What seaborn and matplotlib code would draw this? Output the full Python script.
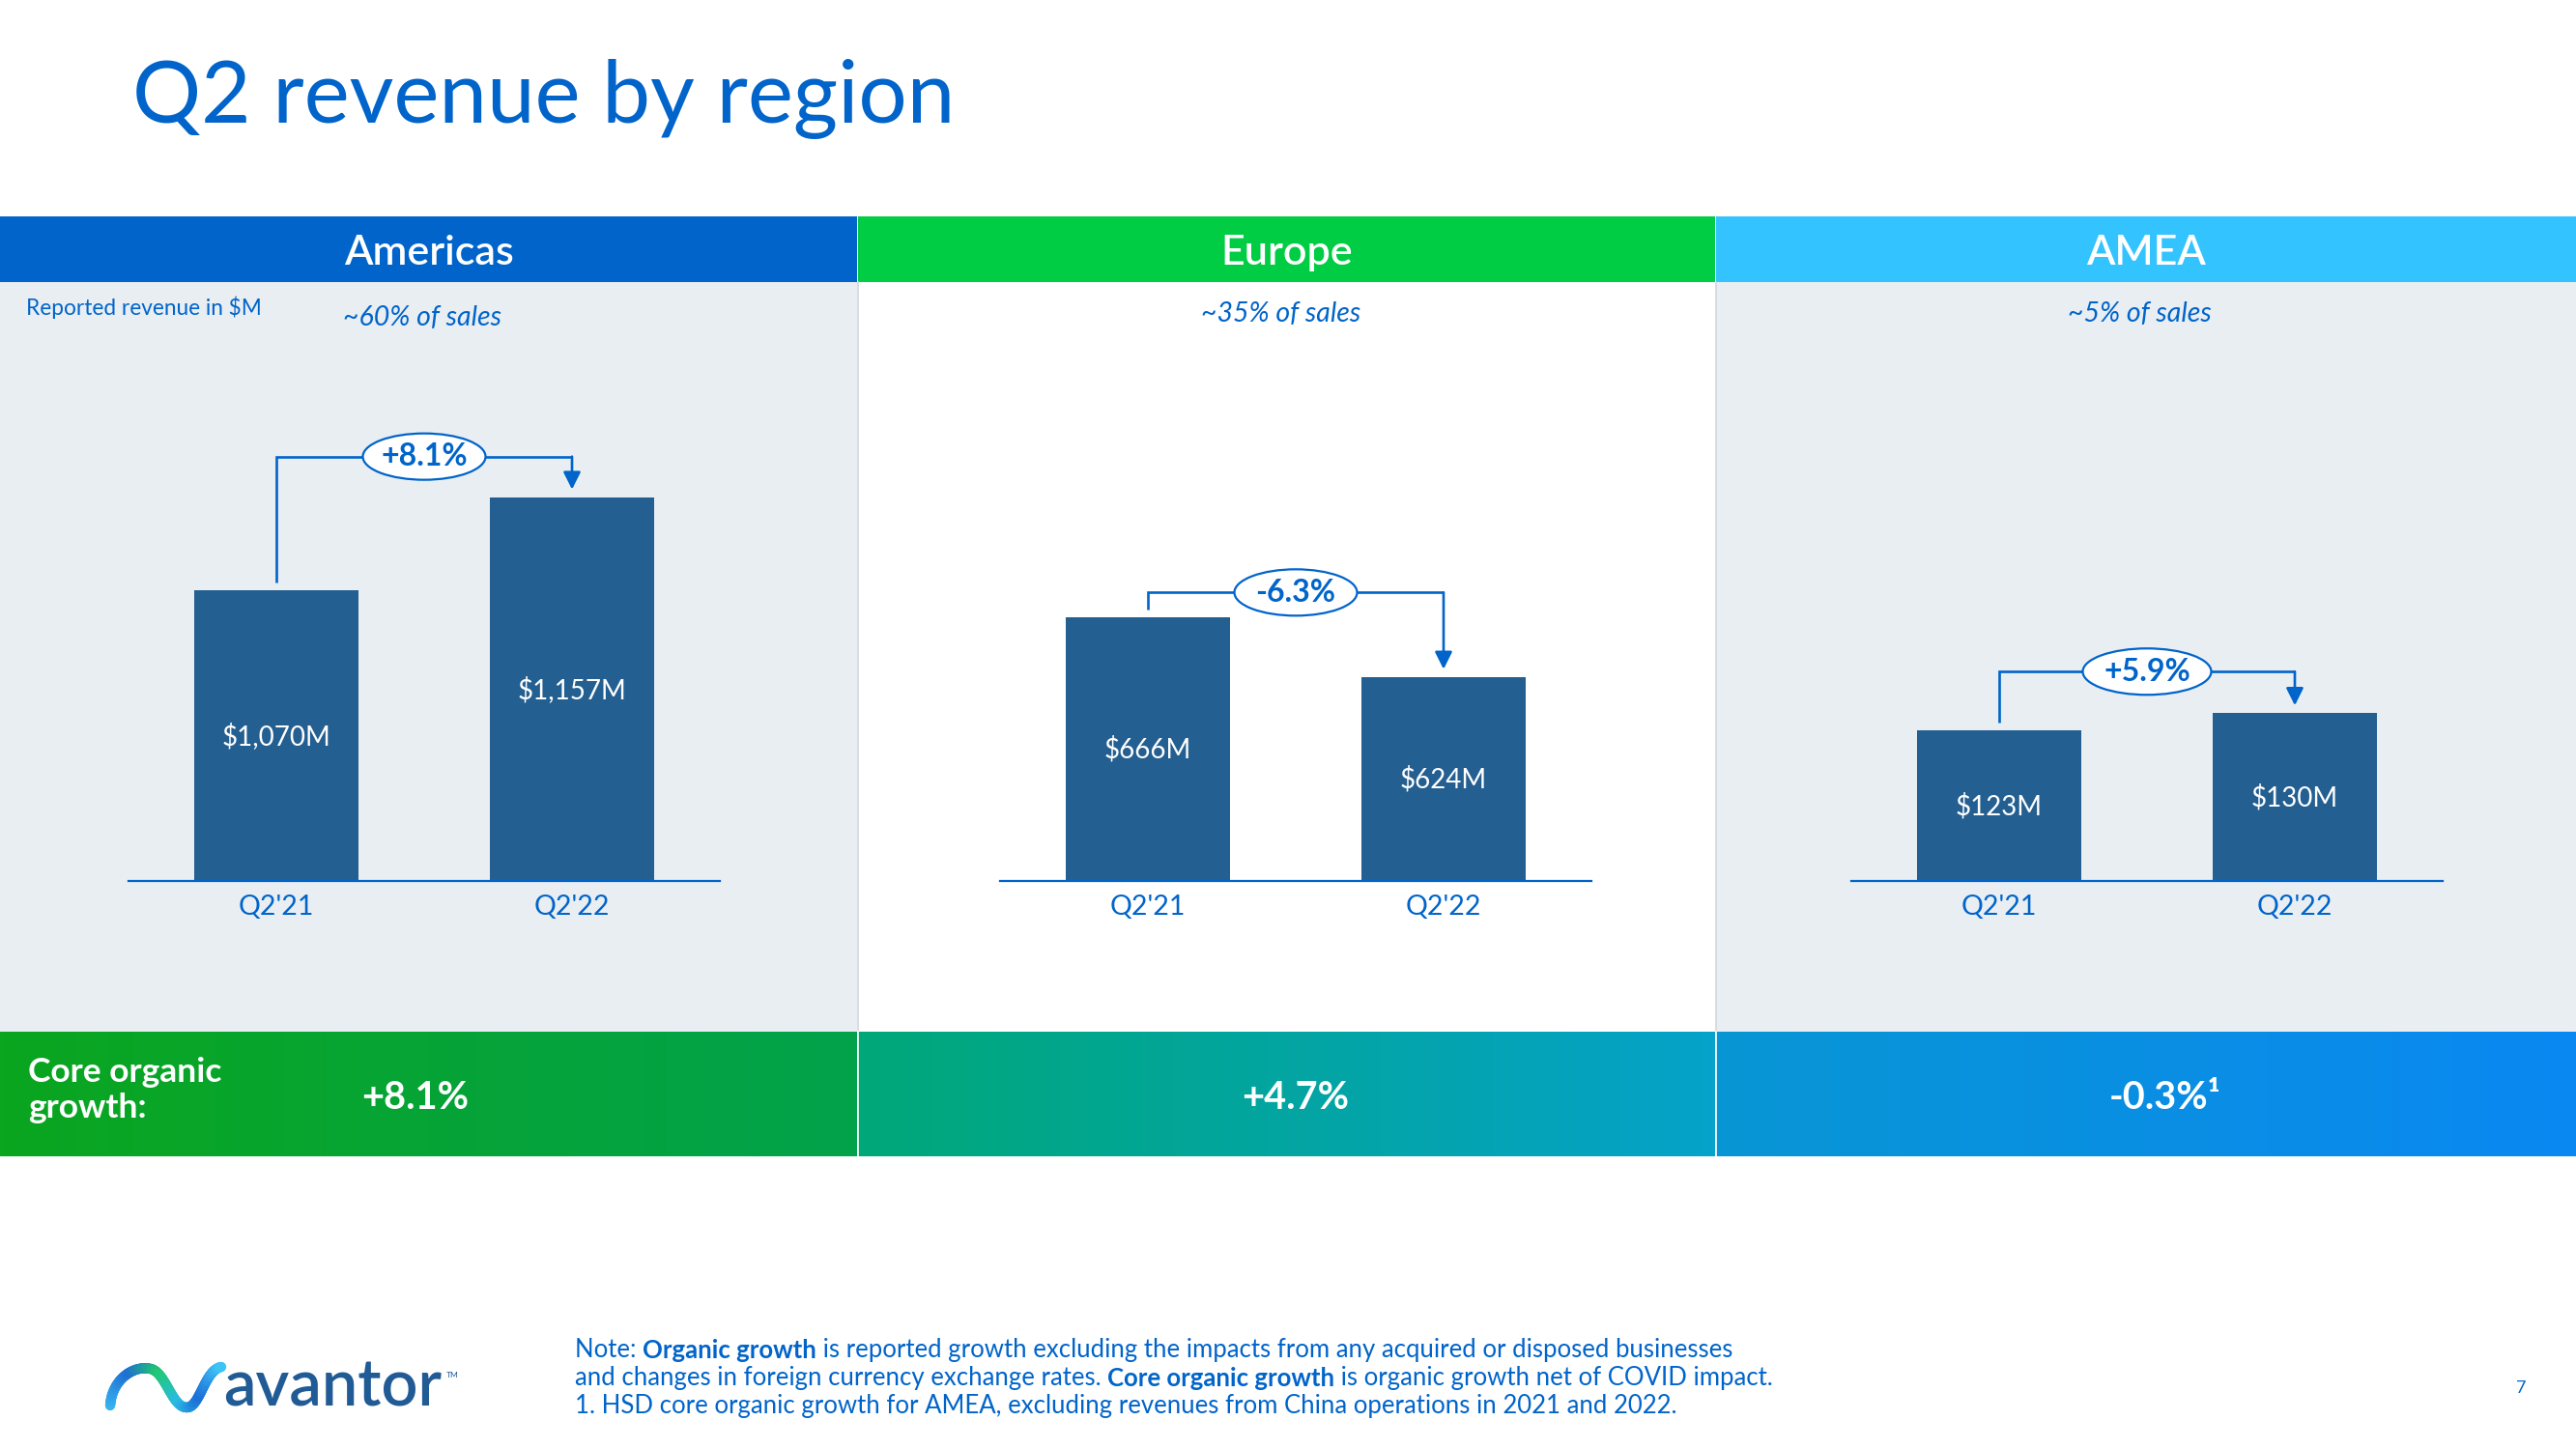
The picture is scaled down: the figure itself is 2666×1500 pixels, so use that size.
import numpy as np
import pandas as pd
import matplotlib
matplotlib.use("Agg")
import matplotlib.pyplot as plt
import seaborn as sns
from matplotlib.patches import Rectangle, Ellipse
from matplotlib.transforms import ScaledTranslation
from matplotlib.collections import LineCollection
from matplotlib.colors import LinearSegmentedColormap

# ---------------- data ----------------
regions = ["Americas", "Europe", "AMEA"]
periods = ["Q2'21", "Q2'22"]
americas_rev = [1070, 1157]
europe_rev = [666, 624]
amea_rev = [123, 130]
yoy_change = ["+8.1%", "-6.3%", "+5.9%"]
sales_share = ["~60% of sales", "~35% of sales", "~5% of sales"]
core_organic = ["+8.1%", "+4.7%", "-0.3%¹"]

# ---------------- style ----------------
sns.set_theme(style="white")
plt.rcParams["font.family"] = ["Lato", "DejaVu Sans"]

BLUE = "#0064CA"
BAR = "#245F91"
PANEL_BG = "#E9EEF3"
HEADER_COLORS = ["#0064CB", "#00CC44", "#33C3FF"]
BAND_GRADS = [("#0AA61F", "#02A24C"), ("#00A878", "#06A2CA"), ("#0896D4", "#0A88F2")]

W, H = 2666, 1500
fig = plt.figure(figsize=(W / 100, H / 100), dpi=100)
fig.patch.set_facecolor("white")

# background / decoration axes in pixel coordinates
bg = fig.add_axes([0, 0, 1, 1], zorder=0)
bg.set_xlim(0, W)
bg.set_ylim(H, 0)
bg.axis("off")

panel_x = [(0, 887), (888, 1775), (1776, 2666)]
axes_x = [(133, 745), (1035, 1647), (1916, 2528)]
HEAD_TOP, HEAD_BOT = 224, 292
BAND_TOP, BAND_BOT = 1068, 1197
AX_TOP, AX_BOT = 292, 912.5
ylims = [(798.6, 1357.6), (479.3, 903.4), (62.3, 303.4)]
bracket_off = [42, 26, 43]
share_x = [437, 1326, 2214]
share_y = [329, 325, 325]
core_x = [430, 1341, 2241]

# title
bg.text(137, 127, "Q2 revenue by region", fontsize=64, fontweight="normal",
        color=BLUE, va="baseline", ha="left")

for i, (x0, x1) in enumerate(panel_x):
    # panel background
    bg.add_patch(Rectangle((x0, HEAD_BOT), x1 - x0, BAND_TOP - HEAD_BOT,
                           facecolor=PANEL_BG if i != 1 else "white", lw=0))
    # header band
    bg.add_patch(Rectangle((x0, HEAD_TOP), x1 - x0, HEAD_BOT - HEAD_TOP,
                           facecolor=HEADER_COLORS[i], lw=0))
    bg.text((x0 + x1) / 2, 262, regions[i], fontsize=31, fontweight="semibold",
            color="white", ha="center", va="center")
    # bottom gradient band
    cmap = LinearSegmentedColormap.from_list(f"g{i}", BAND_GRADS[i])
    bg.imshow(np.linspace(0, 1, 256)[None, :], cmap=cmap, aspect="auto",
              extent=(x0, x1, BAND_BOT, BAND_TOP), zorder=1)
    # share label
    bg.text(share_x[i], share_y[i], sales_share[i], fontsize=20.5, fontstyle="italic",
            color=BLUE, ha="center", va="center")
    bg.text(core_x[i], 1137, core_organic[i], fontsize=28.5, fontweight="bold",
            color="white", ha="center", va="center", zorder=3)

# separators
for xs in (887.5, 1775.5):
    bg.plot([xs, xs], [HEAD_BOT, BAND_TOP], color="#D3D8DE", lw=1.2, zorder=2)
    bg.plot([xs, xs], [BAND_TOP, BAND_BOT], color="white", lw=1.2, zorder=2)

bg.set_xlim(0, W)
bg.set_ylim(H, 0)

bg.text(27, 318, "Reported revenue in $M", fontsize=16.3, color=BLUE,
        ha="left", va="center")
bg.text(29, 1110, "Core organic", fontsize=25.5, fontweight="bold", color="white",
        ha="left", va="center", zorder=3)
bg.text(29, 1147, "growth:", fontsize=25.5, fontweight="bold", color="white",
        ha="left", va="center", zorder=3)

# footnote with mixed weights
foot_lines = [
    [("Note: ", "normal"), ("Organic growth", "bold"),
     (" is reported growth excluding the impacts from any acquired or disposed businesses", "normal")],
    [("and changes in foreign currency exchange rates. ", "normal"), ("Core organic growth", "bold"),
     (" is organic growth net of COVID impact.", "normal")],
    [("1. HSD core organic growth for AMEA, excluding revenues from China operations in 2021 and 2022.", "normal")],
]
foot_base = [1405, 1434, 1463]
for line, yb in zip(foot_lines, foot_base):
    prev = None
    for txt, wt in line:
        if prev is None:
            prev = bg.text(595, yb, txt, fontsize=18.5, fontweight=wt, color=BLUE,
                           ha="left", va="baseline")
        else:
            prev = bg.annotate(txt, xy=(1, 0), xycoords=prev, fontsize=18.5,
                               fontweight=wt, color=BLUE, ha="left", va="bottom")

bg.text(2609, 1437, "7", fontsize=13, color=BLUE, ha="center", va="center")

# logo
def bez(p0, c1, c2, p1, n=60):
    t = np.linspace(0, 1, n)[:, None]
    p0, c1, c2, p1 = map(np.array, (p0, c1, c2, p1))
    return ((1 - t) ** 3) * p0 + 3 * ((1 - t) ** 2) * t * c1 + 3 * (1 - t) * t ** 2 * c2 + t ** 3 * p1

pts = np.vstack([
    bez((114, 1455), (116, 1428), (138, 1413), (156, 1417)),
    bez((156, 1417), (172, 1421), (178, 1458), (194, 1457))[1:],
    bez((194, 1457), (207, 1456), (212, 1418), (229, 1415))[1:],
])
segs = np.stack([pts[:-1], pts[1:]], axis=1)
logo_cmap = LinearSegmentedColormap.from_list(
    "logo", ["#37B4F0", "#1F6FD2", "#20C970", "#2ABBE6", "#1C6ED6", "#3EC3F7"])
lc = LineCollection(segs, colors=logo_cmap(np.linspace(0, 1, len(segs))),
                    linewidths=7.5, capstyle="round", zorder=3)
bg.add_collection(lc)
bg.text(231, 1455, "avantor", fontsize=48, fontweight="semibold", color="#215B95",
        ha="left", va="baseline")
bg.text(462, 1424, "TM", fontsize=6, color="#215B95", ha="left", va="center")

# ---------------- bar panels ----------------
values_by_region = [americas_rev, europe_rev, amea_rev]
for i, vals in enumerate(values_by_region):
    x0, x1 = axes_x[i]
    ax = fig.add_axes([x0 / W, 1 - AX_BOT / H, (x1 - x0) / W, (AX_BOT - AX_TOP) / H], zorder=2)
    df = pd.DataFrame({"period": periods, "revenue": vals})
    sns.barplot(data=df, x="period", y="revenue", color=BAR, saturation=1,
                width=0.556, errorbar=None, linewidth=0, ax=ax)
    ax.set_facecolor("none")
    ax.set_xlabel("")
    ax.set_ylabel("")
    ax.set_yticks([])
    for s in ("left", "right", "top"):
        ax.spines[s].set_visible(False)
    ax.spines["bottom"].set_color(BLUE)
    ax.spines["bottom"].set_linewidth(1.6)
    ax.tick_params(axis="x", length=0, pad=9.5, labelsize=20.5, labelcolor=BLUE)
    ylo, yhi = ylims[i]
    ax.set_xlim(-0.5, 1.5)
    ax.set_ylim(ylo, yhi)
    k = (AX_BOT - AX_TOP) / (yhi - ylo)  # pixels per $M

    # value labels centred in visible bar
    for j, v in enumerate(vals):
        ax.text(j, (ylo + v) / 2, f"${v:,}M", color="white", fontsize=20,
                ha="center", va="center")

    # bracket with arrow
    gap = 8 / k
    level = max(vals) + bracket_off[i] / k
    ax.plot([0, 0, 1], [vals[0] + gap, level, level], color=BLUE, lw=1.9,
            solid_joinstyle="miter", solid_capstyle="butt", zorder=3)
    ax.annotate("", xy=(1, vals[1] + gap), xytext=(1, level),
                arrowprops=dict(arrowstyle="-|>,head_length=0.4,head_width=0.2",
                                mutation_scale=27, lw=1.9, color=BLUE,
                                shrinkA=0, shrinkB=0), zorder=3)
    ew = 1.27 if i != 2 else 1.33
    ell = Ellipse((0, 0), ew, 0.48, facecolor="white", edgecolor=BLUE, lw=1.6,
                  transform=fig.dpi_scale_trans + ScaledTranslation(0.5, level, ax.transData),
                  zorder=4)
    ax.add_patch(ell)
    ax.text(0.5, level, yoy_change[i], color=BLUE, fontsize=23, fontweight="bold",
            ha="center", va="center", zorder=5)
    ax.set_xlim(-0.5, 1.5)
    ax.set_ylim(ylo, yhi)

fig.savefig("out.png", dpi=100, facecolor="white")
